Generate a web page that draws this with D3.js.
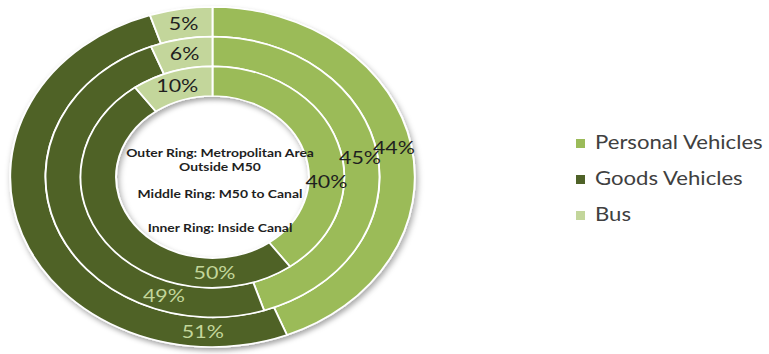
<!DOCTYPE html>
<html>
<head>
<meta charset="utf-8">
<script src="https://d3js.org/d3.v7.min.js"></script>
<style>
  body { margin: 0; background: #fff; }
  svg { display: block; }
</style>
</head>
<body>
<div id="viz"></div>
<script>
// data
var categories = ["Personal Vehicles", "Goods Vehicles", "Bus"];
var rings = ["Outer Ring: Metropolitan Area Outside M50", "Middle Ring: M50 to Canal", "Inner Ring: Inside Canal"];
var outerValues = [44, 51, 5];
var middleValues = [45, 49, 6];
var innerValues = [40, 50, 10];
var centerLines = ["Outer Ring: Metropolitan Area", "Outside M50", "Middle Ring: M50 to Canal", "Inner Ring: Inside Canal"];

var colors = ["#9bbb59", "#4f6228", "#c3d69b"];
var labelColors = ["#1f1f1f", "#c3d69b", "#1f1f1f"];

// picture is stretched sideways, so draw in a squeezed viewBox
var sx = 1.19, W = 769, H = 354;
var vw = W / sx;

var svg = d3.select("#viz").append("svg")
    .attr("width", W).attr("height", H)
    .attr("viewBox", "0 0 " + vw + " " + H)
    .attr("preserveAspectRatio", "none");

var defs = svg.append("defs");
var f = defs.append("filter").attr("id", "shadow")
    .attr("x", "-20%").attr("y", "-20%").attr("width", "140%").attr("height", "140%");
f.append("feDropShadow").attr("dx", 1.5).attr("dy", 3).attr("stdDeviation", 2.5)
    .attr("flood-color", "#000").attr("flood-opacity", 0.35);

var cx = 212.5 / sx, cy = 177;
var outerR = 170, holeR = 81;
var band = (outerR - holeR) / 3;

var pie = d3.pie().sort(null).value(function(d) { return d; });

var ringData = [outerValues, middleValues, innerValues];

// labels Excel left where they were dragged (degrees clockwise from top)
var labelAngle = {
  "0-1": 183, "1-1": 199, "2-1": 179, "2-0": 93
};

var g = svg.append("g").attr("transform", "translate(" + cx + "," + cy + ")");
var donut = g.append("g").attr("filter", "url(#shadow)");
var labels = g.append("g");

ringData.forEach(function(vals, ri) {
  var ro = outerR - band * ri, rIn = ro - band;
  var arc = d3.arc().innerRadius(rIn).outerRadius(ro);
  var arcs = pie(vals);

  donut.selectAll(".r" + ri).data(arcs).enter().append("path")
      .attr("class", "r" + ri)
      .attr("d", arc)
      .attr("fill", function(d, i) { return colors[i]; })
      .attr("stroke", "#fff")
      .attr("stroke-width", 1.6);

  labels.selectAll(".l" + ri).data(arcs).enter().append("text")
      .attr("class", "l" + ri)
      .attr("transform", function(d, i) {
        var key = ri + "-" + i;
        var p;
        if (labelAngle[key] !== undefined) {
          var a = labelAngle[key] * Math.PI / 180, rm = (ro + rIn) / 2;
          p = [rm * Math.sin(a), -rm * Math.cos(a)];
        } else {
          p = arc.centroid(d);
        }
        return "translate(" + p[0] + "," + p[1] + ")";
      })
      .attr("text-anchor", "middle")
      .attr("dy", "0.36em")
      .style("font-family", "Lato, 'Open Sans', sans-serif")
      .style("font-size", "18px")
      .attr("fill", function(d, i) { return labelColors[i]; })
      .text(function(d) { return d.data + "%"; });
});

// text in the hole
var ctr = svg.append("g").attr("transform", "translate(" + (220 / sx) + ",0)");
var lineY = [157, 171, 198, 232];
ctr.selectAll("text").data(centerLines).enter().append("text")
    .attr("x", 0)
    .attr("y", function(d, i) { return lineY[i]; })
    .attr("text-anchor", "middle")
    .style("font-family", "Lato, 'Open Sans', sans-serif")
    .style("font-weight", "bold")
    .style("font-size", "11.7px")
    .attr("fill", "#1f1f1f")
    .text(function(d) { return d; });

// legend
var legend = svg.append("g").attr("transform", "translate(" + (576 / sx) + ",139)");
var item = legend.selectAll("g").data(categories).enter().append("g")
    .attr("transform", function(d, i) { return "translate(0," + (i * 36) + ")"; });
item.append("rect")
    .attr("width", 9 / sx).attr("height", 9)
    .attr("fill", function(d, i) { return colors[i]; });
item.append("text")
    .attr("x", 19 / sx).attr("y", 10)
    .style("font-family", "Lato, 'Open Sans', sans-serif")
    .style("font-size", "18.6px")
    .attr("fill", "#404040")
    .text(function(d) { return d; });
</script>
</body>
</html>
